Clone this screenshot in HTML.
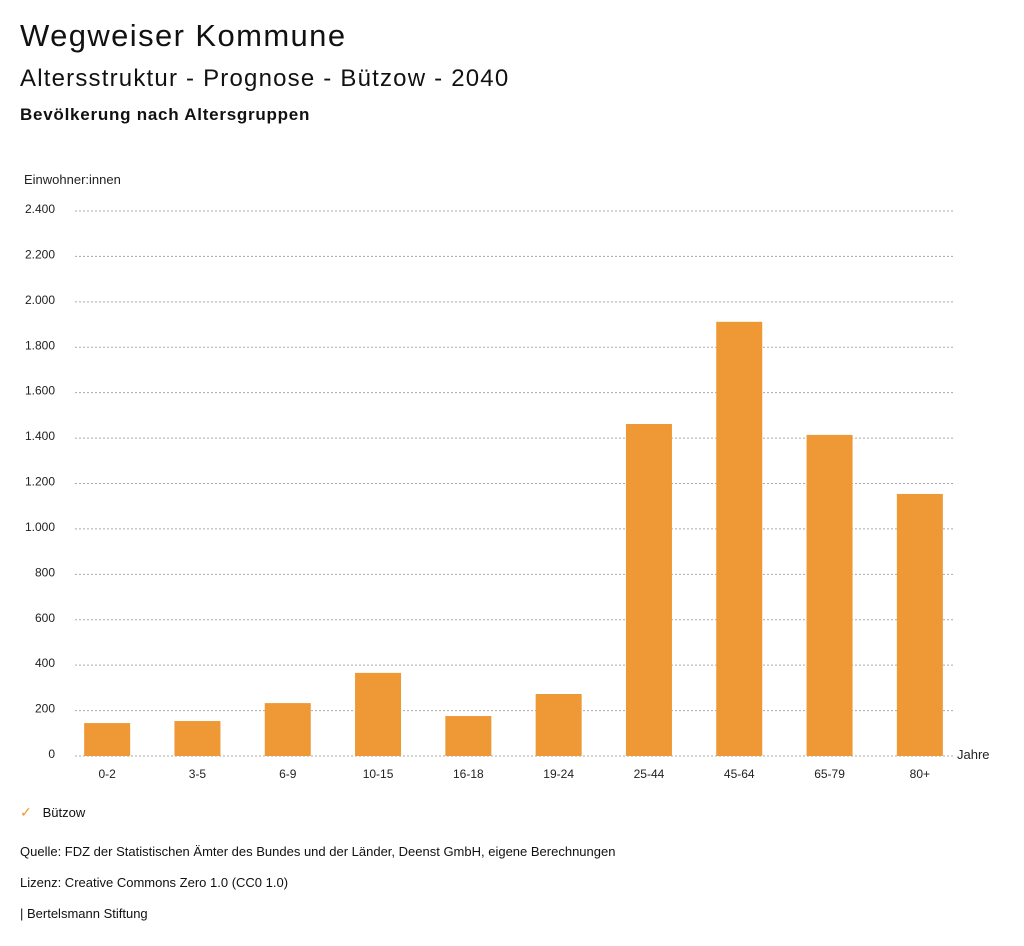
<!DOCTYPE html>
<html><head><meta charset="utf-8"><style>
body{margin:0;background:#fff;font-family:"Liberation Sans",sans-serif;color:#111;}
.t{position:absolute;white-space:nowrap;}
</style></head><body>
<div style="position:relative;width:1024px;height:946px;overflow:hidden">
<div class="t" style="left:20px;top:18px;font-size:31px;letter-spacing:1.4px">Wegweiser Kommune</div>
<div class="t" style="left:20px;top:65px;font-size:24px;letter-spacing:1.2px">Altersstruktur - Prognose - Bützow - 2040</div>
<div class="t" style="left:20px;top:105px;font-size:17px;letter-spacing:0.75px;font-weight:bold">Bevölkerung nach Altersgruppen</div>
<svg id="chart" width="1024" height="800" style="position:absolute;left:0;top:0" font-family="Liberation Sans, sans-serif"></svg>
<div class="t" style="left:20px;top:804px;font-size:13px"><span style="color:#ee9936;font-size:14px">✓</span>&nbsp;&nbsp;&nbsp;Bützow</div>
<div class="t" style="left:20px;top:844px;font-size:13px">Quelle: FDZ der Statistischen Ämter des Bundes und der Länder, Deenst GmbH, eigene Berechnungen</div>
<div class="t" style="left:20px;top:875px;font-size:13px">Lizenz: Creative Commons Zero 1.0 (CC0 1.0)</div>
<div class="t" style="left:20px;top:906px;font-size:13px">| Bertelsmann Stiftung</div>
</div>
<script>
const categories=["0-2","3-5","6-9","10-15","16-18","19-24","25-44","45-64","65-79","80+"];
const values=[145,154,233,366,176,273,1462,1912,1414,1154];
const yTicks=[0,200,400,600,800,1000,1200,1400,1600,1800,2000,2200,2400];
const yTickLabels=["0","200","400","600","800","1.000","1.200","1.400","1.600","1.800","2.000","2.200","2.400"];
const svg=document.getElementById('chart');
const NS="http://www.w3.org/2000/svg";
const x0=62,x1=965,yBase=756,yTop=211,yMax=2400;
const y=v=>yBase-(v/yMax)*(yBase-yTop);
const step=(x1-x0)/categories.length;
const xc=i=>x0+step*(i+0.5);
function mk(tag,attrs,text){const e=document.createElementNS(NS,tag);for(const k in attrs)e.setAttribute(k,attrs[k]);if(text!==undefined)e.textContent=text;svg.appendChild(e);return e;}
let e=mk('text',{x:24,y:184,'font-size':13,fill:'#222'},'Einwohner:innen');


yTicks.forEach((t,i)=>{
  const g=mk('line',{x1:75,x2:953,y1:y(t),y2:y(t),stroke:'#aaa','stroke-dasharray':'2,2','stroke-width':1});
  
  
  const l=mk('text',{x:55,y:y(t)+2,'font-size':12,fill:'#222','text-anchor':'end'},yTickLabels[i]);
  
  
});
categories.forEach((c,i)=>{
  const w=46;
  const r=mk('rect',{x:xc(i)-w/2,y:y(values[i]),width:w,height:yBase-y(values[i]),fill:'#ee9936'});
  
  
  const l=mk('text',{x:xc(i),y:778,'font-size':12,fill:'#222','text-anchor':'middle'},c);
  
  
});
e=mk('text',{x:957,y:759,'font-size':13,fill:'#222'},'Jahre');


</script>
</body></html>
